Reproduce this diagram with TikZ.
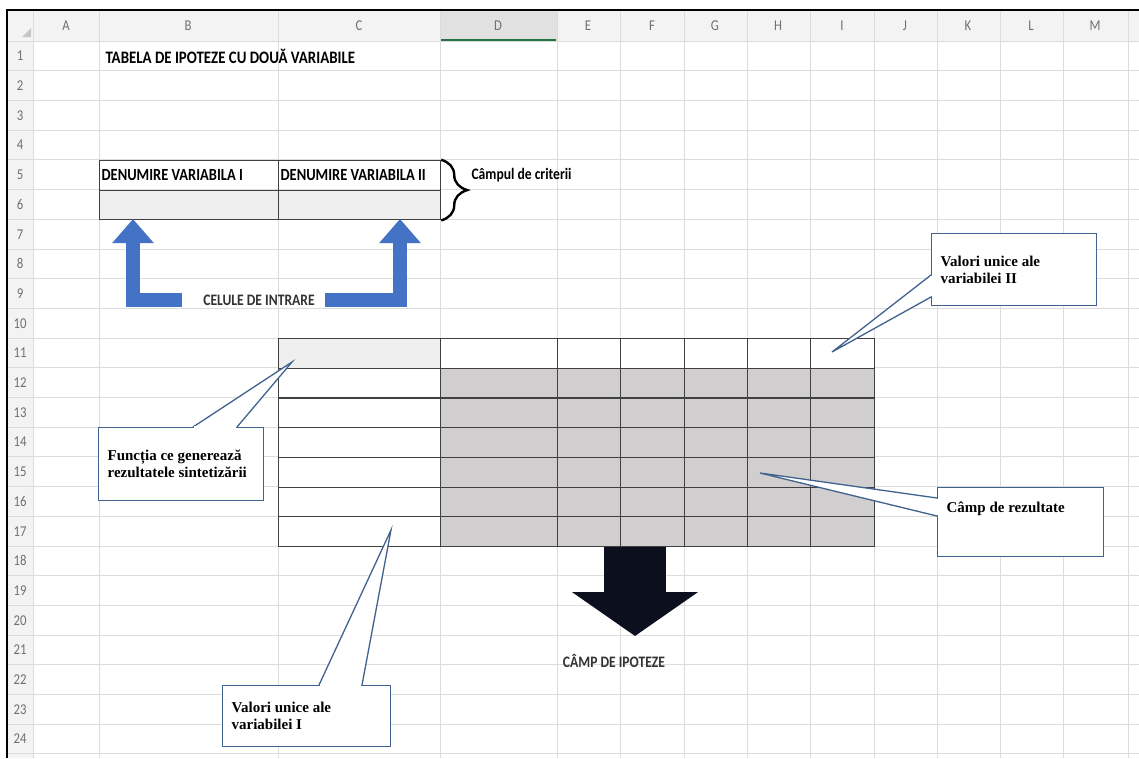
\documentclass[tikz,border=0pt]{standalone}
\usepackage{fontspec}
\usepackage{tikz}
\usetikzlibrary{arrows.meta,calc,decorations.pathreplacing}

\newfontfamily\xlfont[FakeStretch=0.85]{Carlito}
\newfontfamily\wdfont{Liberation Serif}

\definecolor{gridline}{HTML}{DCDCDC}
\definecolor{headfill}{HTML}{F3F3F3}
\definecolor{headsel}{HTML}{E1E1E1}
\definecolor{headtext}{HTML}{707070}
\definecolor{xlgreen}{HTML}{217346}
\definecolor{inputfill}{HTML}{EFEFEF}
\definecolor{resultfill}{HTML}{D0CECE}
\definecolor{tableline}{HTML}{404040}
\definecolor{inblue}{HTML}{4472C4}
\definecolor{noteblue}{HTML}{41628F}
\definecolor{darkarrow}{HTML}{0B0F1E}

\begin{document}
\begin{tikzpicture}[x=1pt, y=-1pt,
  gridrule/.style={draw=gridline, line width=0.8pt},
  colhead/.style={font=\xlfont\fontsize{15}{15}\selectfont, text=headtext, inner sep=0pt},
  celltext/.style={font=\xlfont\bfseries\fontsize{16}{16}\selectfont, text=black},
  critcell/.style={celltext, font=\xlfont\bfseries\fontsize{17}{17}\selectfont, draw=tableline, line width=1.2pt, anchor=north west, minimum height=29.7pt, inner xsep=2pt, text justified},
  tcell/.style={draw=tableline, line width=1.2pt, anchor=north west, minimum height=29.7pt, inner sep=0pt},
  inarrow/.style={draw=inblue, line width=14pt, -{Triangle[width=40pt, length=24pt]}},
  bigarrow/.style={draw=darkarrow, line width=62pt, -{Triangle[width=124pt, length=44pt]}},
  note/.style={font=\wdfont\bfseries\fontsize{15}{17}\selectfont, draw=noteblue, line width=1.3pt, fill=white, anchor=north west, inner xsep=9pt, text justified},
  pointer/.style={draw=noteblue, line width=1.3pt, fill=white, line join=miter},
]

\useasboundingbox (0,0) rectangle (1139,758);
\fill[white] (0,0) rectangle (1139,758);
\fill[headfill] (7,10) rectangle (1139,41);
\fill[headfill] (7,41) rectangle (33,758);
\fill[headsel] (440,11) rectangle (557,41);
\fill[gray!45] (22,37) -- (31,37) -- (31,28) -- cycle;

\foreach \n in {0,...,24}
  \draw[gridrule] (7,{41+29.7*\n}) -- (1139,{41+29.7*\n});
\foreach \x in {33,99,278,440,557,620,684,747,810,874,937,1000,1063,1128}
  \draw[gridrule] (\x,11) -- (\x,758);
\draw[xlgreen, line width=2pt] (441,40) -- (556,40);
\draw[line width=2.6pt] (7,758) -- (7,10) -- (1139,10);

\foreach \c/\x in {A/66, B/188, C/359, D/498, E/588, F/652, G/715, H/778, I/842, J/905, K/968, L/1031, M/1095}
  \node[colhead] (col\c) at (\x,26) {\c};
\foreach \r in {1,...,24}
  \node[colhead] (row\r) at (20,{56+29.7*(\r-1)}) {\r};

\node[celltext, font=\xlfont\bfseries\fontsize{17.5}{17.5}\selectfont, anchor=west] (title) at (102,56) {TABELA DE IPOTEZE CU DOUĂ VARIABILE};

\node[critcell, text width=175pt] (nameI) at (99,159.8) {DENUMIRE VARIABILA I};
\node[critcell, text width=158pt] (nameII) at (278,159.8) {DENUMIRE VARIABILA II};
\node[critcell, fill=inputfill, text width=175pt] (inI) at (99,189.5) {};
\node[critcell, fill=inputfill, text width=158pt] (inII) at (278,189.5) {};

\draw[decorate, decoration={brace, amplitude=26pt}, line width=2.4pt] (nameII.north east) -- (inII.south east);
\node[celltext, anchor=west] (crit) at (468,175) {Câmpul de criterii};

\node[celltext, text=black!80] (lblIn) at (259,300) {CELULE DE INTRARE};
\coordinate (tipI) at (133,219);
\coordinate (tipII) at (400,219);
\draw[inarrow] ([xshift=-18pt]lblIn.west) -| (tipI);
\draw[inarrow] ([xshift=7pt]lblIn.east) -| (tipII);

\node[tcell, fill=inputfill, minimum width=162pt] (fn) at (278,338) {};
\foreach \c/\x/\w in {1/440/117, 2/557/63, 3/620/64, 4/684/63, 5/747/63, 6/810/64}
  \node[tcell, fill=white, minimum width=\w pt] (top\c) at (\x,338) {};
\foreach \r in {1,...,6} {
  \node[tcell, fill=white, minimum width=162pt] (left\r) at (278,{338+29.7*\r}) {};
  \foreach \c/\x/\w in {1/440/117, 2/557/63, 3/620/64, 4/684/63, 5/747/63, 6/810/64}
    \node[tcell, fill=resultfill, minimum width=\w pt] (res\r\c) at (\x,{338+29.7*\r}) {};
}

\coordinate (hypTop) at (635,547);
\coordinate (hypTip) at (635,636);
\draw[bigarrow] (hypTop) -- (hypTip);
\node[celltext, text=black!80] (hyp) at (614,661) {CÂMP DE IPOTEZE};

\coordinate (tipF) at (292,362);
\coordinate (tipV2) at (832,352);
\coordinate (tipR) at (760,473);
\coordinate (tipV1) at (391,530);

\node[note, text width=147pt, minimum height=73pt] (noteF) at (98,427) {Funcția ce generează\\rezultatele sintetizării};
\draw[pointer] ($(noteF.north west)+(95,0)$) -- (tipF) -- ($(noteF.north west)+(139,0)$);
\draw[white, line width=2pt] ($(noteF.north west)+(96,0)$) -- ($(noteF.north west)+(138,0)$);

\node[note, text width=147pt, minimum height=72pt] (noteV2) at (931,233) {Valori unice ale\\variabilei II};
\draw[pointer] ($(noteV2.north west)+(0,42)$) -- (tipV2) -- ($(noteV2.north west)+(0,64)$);
\draw[white, line width=2pt] ($(noteV2.north west)+(0,43)$) -- ($(noteV2.north west)+(0,63)$);

\node[note, text width=148pt, text height=22pt, text depth=40pt] (noteR) at (937,487) {Câmp de rezultate};
\draw[pointer] ($(noteR.north west)+(0,11)$) -- (tipR) -- ($(noteR.north west)+(0,29)$);
\draw[white, line width=2pt] ($(noteR.north west)+(0,12)$) -- ($(noteR.north west)+(0,28)$);

\node[note, text width=150pt, minimum height=61pt] (noteV1) at (222,685) {Valori unice ale\\variabilei I};
\draw[pointer] ($(noteV1.north west)+(97,0)$) -- (tipV1) -- ($(noteV1.north west)+(140,0)$);
\draw[white, line width=2pt] ($(noteV1.north west)+(98,0)$) -- ($(noteV1.north west)+(139,0)$);

\end{tikzpicture}
\end{document}
